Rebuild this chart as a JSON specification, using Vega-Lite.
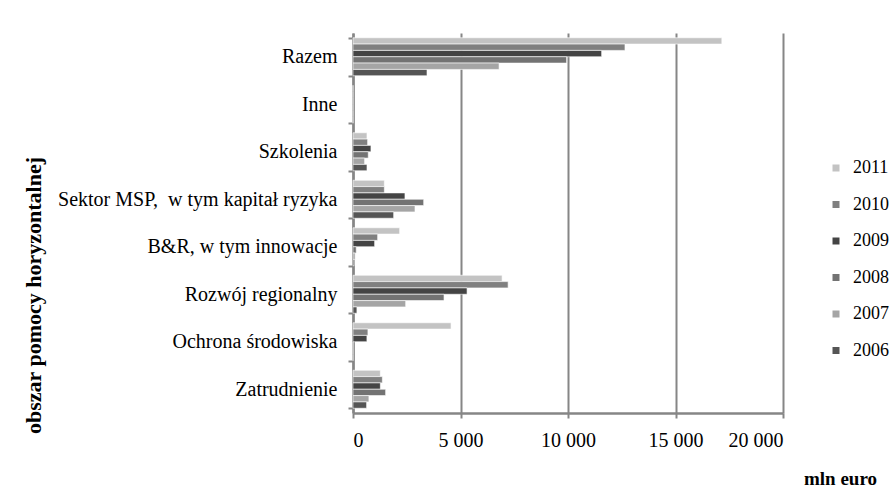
{
  "$schema": "https://vega.github.io/schema/vega-lite/v6.json",
  "width": 430,
  "height": 380,
  "autosize": "none",
  "padding": {"left": 353, "top": 33, "right": 112, "bottom": 86},
  "background": "white",
  "config": {"view": {"stroke": null}, "font": "Liberation Serif"},
  "data": {
    "values": [
      {"obszar": "Razem", "rok": "2011", "wartosc": 17155},
      {"obszar": "Razem", "rok": "2010", "wartosc": 12650},
      {"obszar": "Razem", "rok": "2009", "wartosc": 11565},
      {"obszar": "Razem", "rok": "2008", "wartosc": 9935},
      {"obszar": "Razem", "rok": "2007", "wartosc": 6795},
      {"obszar": "Razem", "rok": "2006", "wartosc": 3442},
      {"obszar": "Inne", "rok": "2011", "wartosc": 0},
      {"obszar": "Inne", "rok": "2010", "wartosc": 0},
      {"obszar": "Inne", "rok": "2009", "wartosc": 0},
      {"obszar": "Inne", "rok": "2008", "wartosc": 0},
      {"obszar": "Inne", "rok": "2007", "wartosc": 0},
      {"obszar": "Inne", "rok": "2006", "wartosc": 0},
      {"obszar": "Szkolenia", "rok": "2011", "wartosc": 650},
      {"obszar": "Szkolenia", "rok": "2010", "wartosc": 680},
      {"obszar": "Szkolenia", "rok": "2009", "wartosc": 835},
      {"obszar": "Szkolenia", "rok": "2008", "wartosc": 710},
      {"obszar": "Szkolenia", "rok": "2007", "wartosc": 540},
      {"obszar": "Szkolenia", "rok": "2006", "wartosc": 650},
      {"obszar": "Sektor MSP, \u00a0w tym kapitał ryzyka", "rok": "2011", "wartosc": 1458},
      {"obszar": "Sektor MSP, \u00a0w tym kapitał ryzyka", "rok": "2010", "wartosc": 1458},
      {"obszar": "Sektor MSP, \u00a0w tym kapitał ryzyka", "rok": "2009", "wartosc": 2417},
      {"obszar": "Sektor MSP, \u00a0w tym kapitał ryzyka", "rok": "2008", "wartosc": 3288},
      {"obszar": "Sektor MSP, \u00a0w tym kapitał ryzyka", "rok": "2007", "wartosc": 2883},
      {"obszar": "Sektor MSP, \u00a0w tym kapitał ryzyka", "rok": "2006", "wartosc": 1891},
      {"obszar": "B&R, w tym innowacje", "rok": "2011", "wartosc": 2170},
      {"obszar": "B&R, w tym innowacje", "rok": "2010", "wartosc": 1146},
      {"obszar": "B&R, w tym innowacje", "rok": "2009", "wartosc": 1006},
      {"obszar": "B&R, w tym innowacje", "rok": "2008", "wartosc": 150},
      {"obszar": "B&R, w tym innowacje", "rok": "2007", "wartosc": 100},
      {"obszar": "B&R, w tym innowacje", "rok": "2006", "wartosc": 50},
      {"obszar": "Rozwój regionalny", "rok": "2011", "wartosc": 6935},
      {"obszar": "Rozwój regionalny", "rok": "2010", "wartosc": 7215},
      {"obszar": "Rozwój regionalny", "rok": "2009", "wartosc": 5305},
      {"obszar": "Rozwój regionalny", "rok": "2008", "wartosc": 4234},
      {"obszar": "Rozwój regionalny", "rok": "2007", "wartosc": 2450},
      {"obszar": "Rozwój regionalny", "rok": "2006", "wartosc": 182},
      {"obszar": "Ochrona środowiska", "rok": "2011", "wartosc": 4560},
      {"obszar": "Ochrona środowiska", "rok": "2010", "wartosc": 694},
      {"obszar": "Ochrona środowiska", "rok": "2009", "wartosc": 647},
      {"obszar": "Ochrona środowiska", "rok": "2008", "wartosc": 0},
      {"obszar": "Ochrona środowiska", "rok": "2007", "wartosc": 0},
      {"obszar": "Ochrona środowiska", "rok": "2006", "wartosc": 0},
      {"obszar": "Zatrudnienie", "rok": "2011", "wartosc": 1272},
      {"obszar": "Zatrudnienie", "rok": "2010", "wartosc": 1365},
      {"obszar": "Zatrudnienie", "rok": "2009", "wartosc": 1272},
      {"obszar": "Zatrudnienie", "rok": "2008", "wartosc": 1518},
      {"obszar": "Zatrudnienie", "rok": "2007", "wartosc": 740},
      {"obszar": "Zatrudnienie", "rok": "2006", "wartosc": 633}
    ]
  },
  "mark": {"type": "bar", "stroke": "white", "strokeWidth": 0.6},
  "encoding": {
    "y": {
      "field": "obszar",
      "type": "nominal",
      "sort": ["Razem", "Inne", "Szkolenia", "Sektor MSP, \u00a0w tym kapitał ryzyka", "B&R, w tym innowacje", "Rozwój regionalny", "Ochrona środowiska", "Zatrudnienie"],
      "scale": {"paddingInner": 0.2, "paddingOuter": 0.1},
      "axis": {
        "title": "obszar pomocy horyzontalnej",
        "titleFont": "Liberation Serif",
        "titleFontWeight": "bold",
        "titleFontSize": 22,
        "titleColor": "black",
        "titleX": -320,
        "titleY": 262,
        "titleAngle": 270,
        "titleAlign": "center",
        "titleBaseline": "middle",
        "domainColor": "#868686",
        "domainWidth": 2.5,
        "tickColor": "#868686",
        "tickWidth": 2,
        "tickSize": 5,
        "tickBand": "extent",
        "labelFont": "Liberation Serif",
        "labelFontSize": 20,
        "labelColor": "black",
        "labelPadding": 11,
        "labelLimit": 400,
        "grid": false
      }
    },
    "yOffset": {"field": "rok", "type": "nominal", "sort": "descending", "scale": {"paddingInner": 0, "paddingOuter": 0}},
    "x": {
      "field": "wartosc",
      "type": "quantitative",
      "scale": {"domain": [0, 20000], "nice": false},
      "axis": {
        "values": [0, 5000, 10000, 15000, 20000],
        "labelExpr": "replace(format(datum.value, ','), ',', ' ')",
        "grid": true,
        "gridColor": "#868686",
        "gridWidth": 2,
        "domainColor": "#868686",
        "domainWidth": 2.5,
        "tickColor": "#868686",
        "tickWidth": 2,
        "tickSize": 5,
        "labelFont": "Liberation Serif",
        "labelFontSize": 20,
        "labelColor": "black",
        "labelPadding": 12,
        "title": "mln euro",
        "titleFont": "Liberation Serif",
        "titleFontWeight": "bold",
        "titleFontSize": 19,
        "titleColor": "black",
        "titleX": 487,
        "titleY": 65,
        "titleAlign": "center",
        "titleBaseline": "middle"
      }
    },
    "color": {
      "field": "rok",
      "type": "nominal",
      "scale": {
        "domain": ["2011", "2010", "2009", "2008", "2007", "2006"],
        "range": ["#c3c3c3", "#808080", "#444444", "#737373", "#a5a5a5", "#555555"]
      },
      "legend": {
        "title": null,
        "orient": "none",
        "legendX": 474,
        "legendY": 126,
        "symbolType": "square",
        "symbolSize": 49,
        "symbolStrokeWidth": 0,
        "labelFont": "Liberation Serif",
        "labelFontSize": 18,
        "labelColor": "black",
        "labelOffset": 8,
        "rowPadding": 18.5
      }
    }
  }
}
